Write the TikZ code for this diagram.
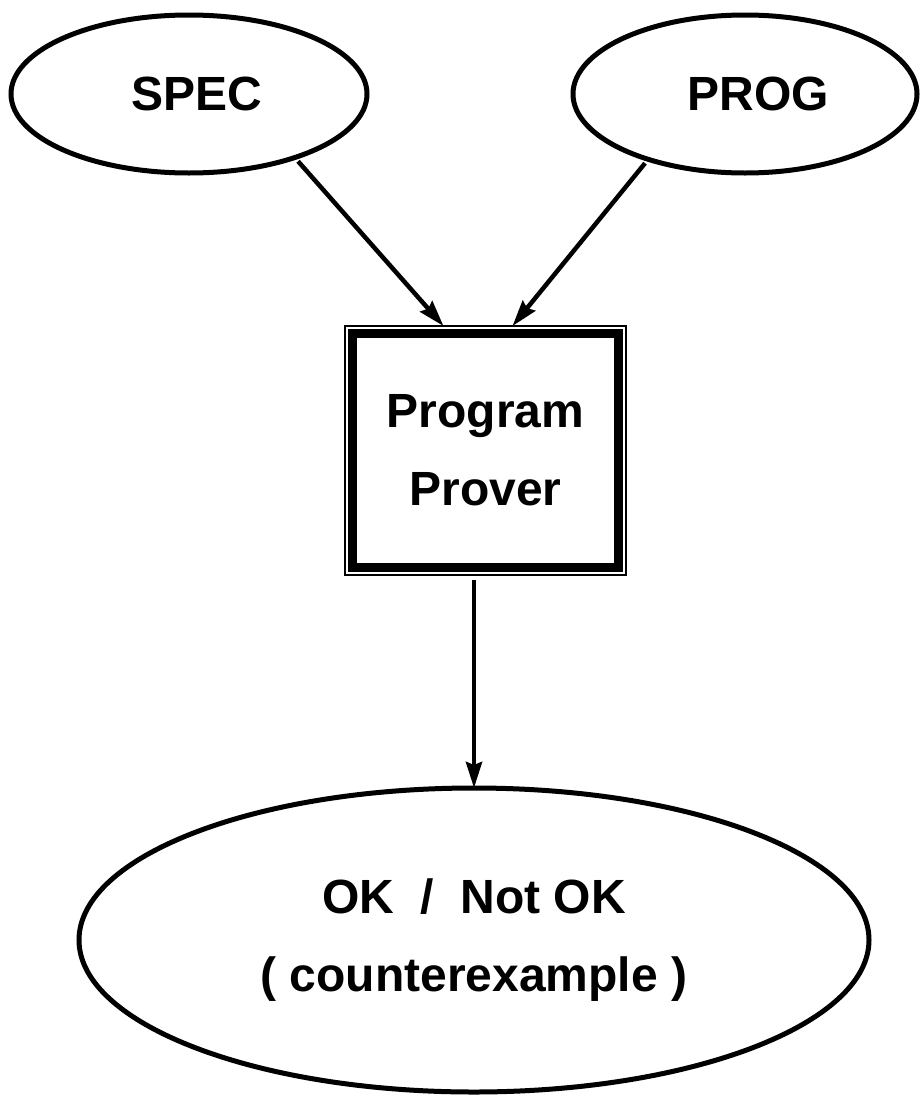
\documentclass[tikz,border=0pt]{standalone}
\usepackage{fontspec}
\setmainfont{Liberation Sans}
\usetikzlibrary{shapes.geometric,arrows.meta,calc}
\begin{document}
\begin{tikzpicture}[x=1pt,y=1pt,
  txt/.style={font=\fontsize{48}{78}\selectfont\bfseries, align=center},
  oval/.style={ellipse, draw, line width=5pt, inner sep=0pt, outer sep=0pt, txt},
  prover/.style={rectangle, draw, line width=9pt, inner sep=0pt, outer sep=0pt,
    minimum width=266pt, minimum height=234pt, txt},
  conn/.style={line width=4.5pt, shorten <=5pt, -{Stealth[length=26pt,width=16pt,inset=3pt]}}
]
\useasboundingbox (0,0) rectangle (920,-1095);
\node[oval, minimum width=356pt, minimum height=158pt] (spec) at (189,-94) {\hspace*{16pt}SPEC};
\node[oval, minimum width=344pt, minimum height=158pt] (prog) at (745,-94) {\hspace*{26pt}PROG};
\node[prover] (box) at (485.5,-450.5) {Program\\Prover};
\draw[line width=2.5pt] ([shift={(-7.5,7.5)}]box.north west) rectangle ([shift={(7.5,-7.5)}]box.south east);
\node[oval, minimum width=790pt, minimum height=304pt] (out) at (474,-940) {OK\ \ /\ \ Not OK\\( counterexample )};
\coordinate (inA) at ($(box.north)+(-42,7.5)$);
\coordinate (inB) at ($(box.north)+(27,7.5)$);
\coordinate (outA) at ($(box.south -| out.north)+(0,-7.5)$);
\draw[conn] (spec.-31) -- (inA);
\draw[conn] (prog.-146) -- (inB);
\draw[conn] (outA) -- (out.north);
\end{tikzpicture}
\end{document}
